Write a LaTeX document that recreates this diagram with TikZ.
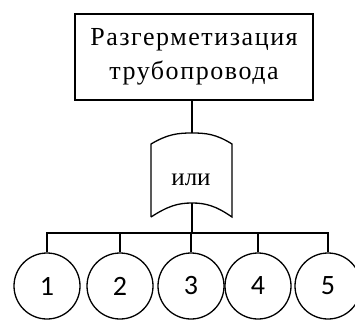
\documentclass[tikz,border=0pt]{standalone}
\usepackage{fontspec}
\setmainfont{Liberation Serif}
\newfontfamily\numfont{Carlito}
\newfontfamily\spacedfont[LetterSpace=6]{Liberation Serif}
\begin{document}
\begin{tikzpicture}[x=1pt,y=-1pt,line width=1.3pt,
  topbox/.style={draw,minimum width=238pt,minimum height=86pt,align=center,inner sep=0pt,
     font=\spacedfont\fontsize{26}{34}\selectfont},
  numcirc/.style={draw,circle,minimum size=66pt,inner sep=0pt,font=\numfont\fontsize{28}{30}\selectfont},
  ortext/.style={inner sep=0pt,font=\fontsize{25}{30}\selectfont}]
\useasboundingbox (0,0) rectangle (355,320);
\node[topbox] (top) at (194,57) {Разгерметизация\\трубопровода};
% banner
\coordinate (ortop) at (192,133);
\coordinate (orbot) at (192,203);
\draw (151,217) -- (151,144) .. controls (168,134) and (178,133) .. (ortop)
      .. controls (206,133) and (216,134) .. (232,144) -- (232,217)
      .. controls (216,206) and (206,203) .. (orbot)
      .. controls (178,203) and (168,206) .. (151,217);
\node[ortext] (or) at (191,180) {или};
\draw (top.south -| ortop) -- (ortop);
\coordinate (bar) at (192,233);
\draw (orbot) -- (bar);
\node[numcirc] (c1) at (47,286) {1};
\node[numcirc] (c2) at (120,286) {2};
\node[numcirc] (c3) at (191,286) {3};
\node[numcirc] (c4) at (258,286) {4};
\node[numcirc] (c5) at (328,286) {5};
\draw (c1.north) -- (c1.north |- bar) -| (c5.north);
\foreach \c in {c2,c3,c4} \draw (\c.north) -- (\c.north |- bar);
\end{tikzpicture}
\end{document}
